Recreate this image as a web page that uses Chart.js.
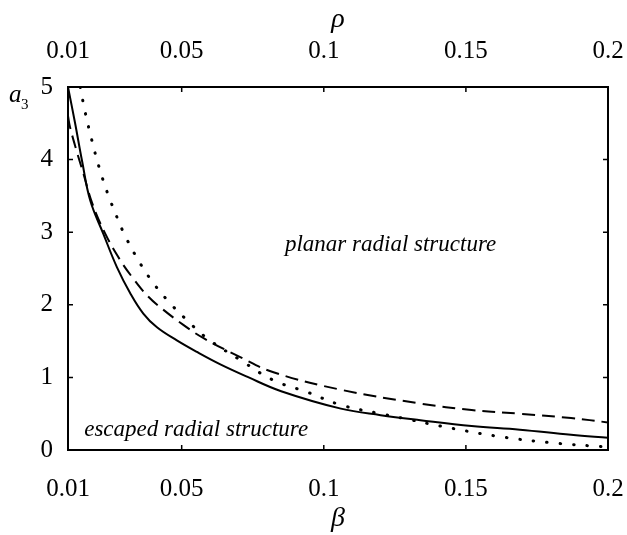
<!DOCTYPE html>
<html lang="en">
<head>
  <meta charset="utf-8">
  <title>a3 vs beta</title>
  <script src="https://cdn.jsdelivr.net/npm/chart.js@4.4.1/dist/chart.umd.min.js"></script>
  <style>
    body { margin: 0; background: #fff; }
  </style>
</head>
<body>
  <canvas id="chart" width="627" height="535"></canvas>
  <script>
    // ticks shared by top (rho) and bottom (beta) axes
    const xTicks = [0.01, 0.05, 0.1, 0.15, 0.2];
    const xTickLabels = ['0.01', '0.05', '0.1', '0.15', '0.2'];
    const yTicks = [0, 1, 2, 3, 4, 5];

    // solid curve
    const solidBeta = [0.01, 0.0125, 0.015, 0.0178, 0.0224, 0.0272, 0.0319, 0.0365, 0.0413, 0.0483, 0.0554, 0.0636, 0.073, 0.085, 0.106, 0.12, 0.134, 0.152, 0.169, 0.187, 0.2];
    const solidA = [5.0, 4.5, 3.97, 3.44, 2.98, 2.52, 2.16, 1.88, 1.69, 1.51, 1.35, 1.18, 1.01, 0.81, 0.57, 0.48, 0.41, 0.33, 0.28, 0.21, 0.17];

    // dashed curve
    const dashBeta = [0.01, 0.0107, 0.0131, 0.0154, 0.0185, 0.0231, 0.0283, 0.033, 0.0383, 0.0436, 0.0507, 0.0577, 0.0706, 0.0823, 0.106, 0.134, 0.152, 0.169, 0.187, 0.2];
    const dashA = [4.6, 4.45, 4.11, 3.81, 3.4, 2.98, 2.62, 2.36, 2.11, 1.93, 1.72, 1.54, 1.28, 1.07, 0.83, 0.64, 0.55, 0.50, 0.44, 0.38];

    // dotted curve
    const dotBeta = [0.0143, 0.016, 0.0183, 0.0209, 0.0239, 0.0274, 0.0295, 0.0336, 0.0389, 0.0448, 0.0518, 0.0589, 0.0706, 0.0823, 0.094, 0.106, 0.12, 0.13, 0.141, 0.161, 0.18, 0.2];
    const dotA = [5.0, 4.66, 4.28, 3.9, 3.54, 3.19, 3.0, 2.69, 2.36, 2.07, 1.79, 1.54, 1.24, 0.96, 0.80, 0.62, 0.50, 0.42, 0.33, 0.19, 0.10, 0.04];

    const serif = "'Liberation Serif', 'Times New Roman', serif";

    function pts(xs, ys) {
      return xs.map((x, i) => ({ x: x, y: ys[i] }));
    }

    function xAxis(pos, title, h, pad) {
      return {
        type: 'linear',
        position: pos,
        min: 0.01,
        max: 0.2,
        afterBuildTicks: (s) => { s.ticks = xTicks.map(v => ({ value: v })); },
        afterFit: (s) => { s.height = h; s.paddingLeft = 0; s.paddingRight = 0; },
        grid: { display: false, drawTicks: false },
        border: { display: false },
        ticks: {
          padding: pad,
          maxRotation: 0,
          color: '#000',
          font: { family: serif, size: 25 },
          callback: (v) => xTickLabels[xTicks.indexOf(v)]
        },
        title: {
          display: true,
          text: title,
          color: '#000',
          padding: { top: 3, bottom: 0 },
          font: { family: serif, size: 28, style: 'italic' }
        }
      };
    }

    // frame, inward tick marks, a3 label and region labels
    const decor = {
      id: 'decor',
      afterDraw(chart) {
        const ctx = chart.ctx;
        const a = chart.chartArea;
        const x = chart.scales.x, y = chart.scales.y;
        ctx.save();
        ctx.strokeStyle = '#000';
        ctx.lineWidth = 2;
        ctx.strokeRect(a.left, a.top, a.right - a.left, a.bottom - a.top);
        ctx.lineWidth = 1.5;
        ctx.beginPath();
        xTicks.forEach(v => {
          const px = x.getPixelForValue(v);
          ctx.moveTo(px, a.bottom); ctx.lineTo(px, a.bottom - 5);
          ctx.moveTo(px, a.top); ctx.lineTo(px, a.top + 5);
        });
        yTicks.forEach(v => {
          const py = y.getPixelForValue(v);
          ctx.moveTo(a.left, py); ctx.lineTo(a.left + 5, py);
          ctx.moveTo(a.right, py); ctx.lineTo(a.right - 5, py);
        });
        ctx.stroke();

        ctx.fillStyle = '#000';
        ctx.textBaseline = 'alphabetic';
        ctx.font = 'italic 25px ' + serif;
        ctx.fillText('a', 9, 102);
        ctx.font = '15px ' + serif;
        ctx.fillText('3', 21, 109);

        ctx.font = 'italic 23px ' + serif;
        ctx.textAlign = 'center';
        ctx.textBaseline = 'middle';
        ctx.fillText('planar radial structure', x.getPixelForValue(0.1235), y.getPixelForValue(2.82));
        ctx.fillText('escaped radial structure', x.getPixelForValue(0.0551), y.getPixelForValue(0.28));
        ctx.restore();
      }
    };

    new Chart(document.getElementById('chart').getContext('2d'), {
      type: 'scatter',
      data: {
        datasets: [{
          label: 'solid',
          data: pts(solidBeta, solidA),
          showLine: true,
          borderColor: '#000',
          borderWidth: 2,
          pointRadius: 0,
          tension: 0.4
        }, {
          label: 'dashed',
          data: pts(dashBeta, dashA),
          showLine: true,
          borderColor: '#000',
          borderWidth: 2,
          borderDash: [13, 7],
          pointRadius: 0,
          tension: 0.4
        }, {
          label: 'dotted',
          data: pts(dotBeta, dotA),
          showLine: true,
          borderColor: '#000',
          borderWidth: 3,
          borderDash: [0.5, 13],
          borderCapStyle: 'round',
          pointRadius: 0,
          tension: 0.4
        }]
      },
      options: {
        responsive: false,
        animation: false,
        layout: { padding: { left: 0, right: 19, top: 0, bottom: 0 } },
        plugins: { legend: { display: false }, tooltip: { enabled: false } },
        scales: {
          x: xAxis('bottom', 'β', 85, 24),
          x2: xAxis('top', 'ρ', 87, 21),
          y: {
            min: 0,
            max: 5,
            afterBuildTicks: (s) => { s.ticks = yTicks.map(v => ({ value: v })); },
            afterFit: (s) => { s.width = 68; },
            grid: { display: false, drawTicks: false },
            border: { display: false },
            ticks: {
              padding: 15,
              color: '#000',
              font: { family: serif, size: 25 }
            }
          }
        }
      },
      plugins: [decor]
    });
  </script>
</body>
</html>
